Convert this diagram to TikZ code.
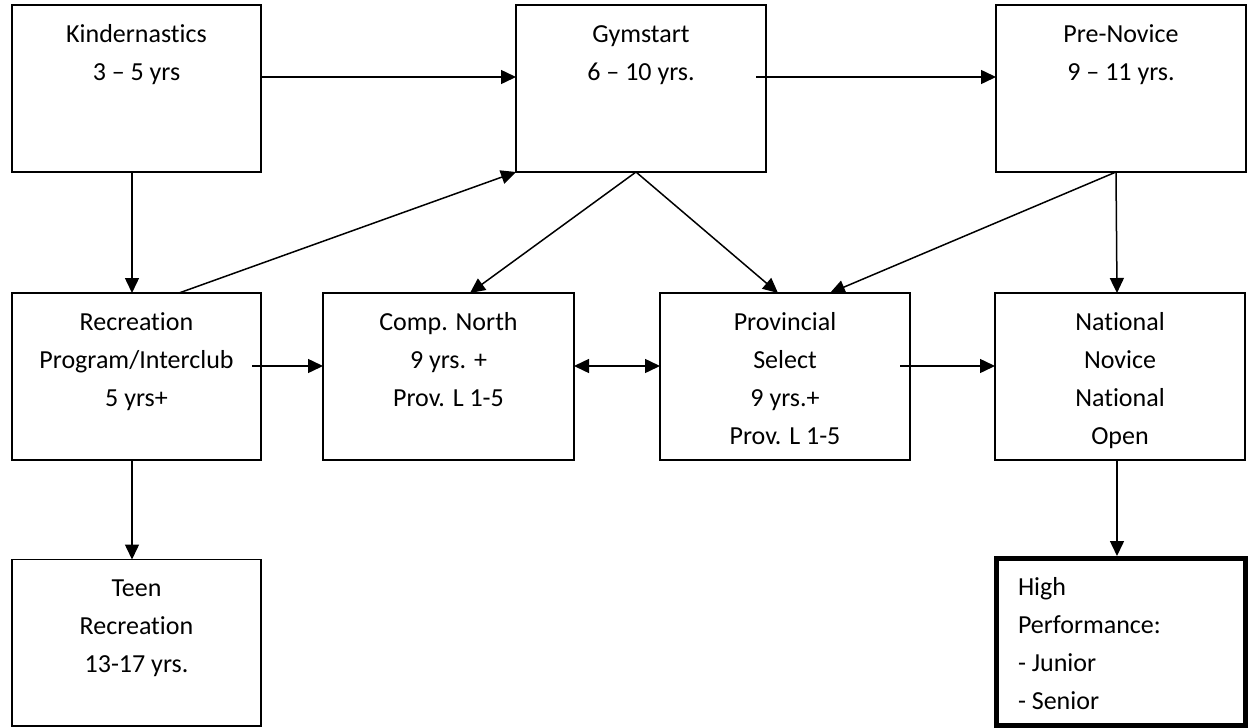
\documentclass[tikz,border=0pt]{standalone}
\usepackage{fontspec}
\setmainfont{Carlito}[Ligatures=NoCommon]
\usetikzlibrary{arrows.meta,calc}
\tikzset{
  box/.style={draw=black, line width=1.5pt, inner sep=0pt, outer sep=0pt, minimum width=250pt, minimum height=167pt},
  hpbox/.style={draw=black, line width=5pt, inner sep=0pt, outer sep=2.5pt, minimum width=249pt, minimum height=166.5pt},
  txt/.style={inner sep=0pt, outer sep=0pt, font=\fontsize{26}{38}\selectfont},
  arr/.style={line width=1.5pt, -{Triangle[length=15pt,width=14pt]}},
  darr/.style={line width=1.5pt, {Triangle[length=15pt,width=14pt]}-{Triangle[length=15pt,width=14pt]}}
}
\begin{document}
\begin{tikzpicture}[x=1pt,y=-1pt]
\fill[white] (0,0) rectangle (1248,728);
\useasboundingbox (0,0) rectangle (1248,728);
% boxes
\node[box, minimum width=249pt] (kin) at (136.5,88.5) {};
\node[box] (gym) at (641,88.5) {};
\node[box] (pre) at (1121,88.5) {};
\node[box, minimum width=249pt] (rec) at (136.5,376.5) {};
\node[box, minimum width=251pt] (comp) at (448.5,376.5) {};
\node[box] (prov) at (785,376.5) {};
\node[box] (nat) at (1120,376.5) {};
\node[box, minimum width=249pt, minimum height=166.5pt] (teen) at (136.5,642.75) {};
\node[hpbox] (hp) at (1120.5,641.75) {};
% texts
\node[txt, anchor=base] (kint) at ([yshift=-37pt]kin.north) {\parbox[t]{240pt}{\centering Kindernastics\\3 \textendash{} 5 yrs}};
\node[txt, anchor=base] (gymt) at ([yshift=-37pt]gym.north) {\parbox[t]{240pt}{\centering Gymstart\\6 \textendash{} 10 yrs.}};
\node[txt, anchor=base] (pret) at ([yshift=-37pt]pre.north) {\parbox[t]{240pt}{\centering Pre-Novice\\9 \textendash{} 11 yrs.}};
\node[txt, anchor=base] (rect) at ([yshift=-37pt]rec.north) {\parbox[t]{240pt}{\centering Recreation\\Program/Interclub\\5 yrs+}};
\node[txt, anchor=base] (compt) at ([yshift=-37pt]comp.north) {\parbox[t]{240pt}{\centering Comp. North\\9 yrs. +\\Prov. L 1-5}};
\node[txt, anchor=base] (provt) at ([yshift=-37pt]prov.north) {\parbox[t]{240pt}{\centering Provincial\\Select\\9 yrs.+\\Prov. L 1-5}};
\node[txt, anchor=base] (natt) at ([yshift=-37pt]nat.north) {\parbox[t]{240pt}{\centering National\\Novice\\National\\Open}};
\node[txt, anchor=base] (teent) at ([yshift=-37pt]teen.north) {\parbox[t]{240pt}{\centering Teen\\Recreation\\13-17 yrs.}};
\node[txt, anchor=base west] (hpt) at ([xshift=24.5pt,yshift=-39pt]hp.north west) {\parbox[t]{215pt}{\raggedright High\\Performance:\\- Junior\\- Senior}};
% connectors
\draw[arr] ([yshift=11.5pt]kin.east) -- ([yshift=11.5pt]gym.west);
\draw[arr] ([xshift=-10pt,yshift=11.5pt]gym.east) -- ([yshift=11.5pt]pre.west);
\draw[arr] ([xshift=-4.5pt]kin.south) -- ([xshift=-4.5pt]rec.north);
\draw[arr] ([xshift=42.5pt]rec.north) -- (gym.south west);
\draw[arr] ([xshift=-5pt]gym.south) -- ([xshift=21.5pt]comp.north);
\draw[arr] ([xshift=-5pt]gym.south) -- ([xshift=-7pt]prov.north);
\draw[arr] ([xshift=-5pt]pre.south) -- ([xshift=45pt]prov.north);
\draw[arr] ([xshift=-5pt]pre.south) -- ([xshift=-3pt]nat.north);
\draw[arr] ([xshift=-9pt,yshift=10.5pt]rec.east) -- ([yshift=10.5pt]comp.west);
\draw[darr] ([yshift=10.5pt]comp.east) -- ([yshift=10.5pt]prov.west);
\draw[arr] ([xshift=-10pt,yshift=10.5pt]prov.east) -- ([yshift=10.5pt]nat.west);
\draw[arr] ([xshift=-4.5pt]rec.south) -- ([xshift=-4.5pt]teen.north);
\draw[arr] ([xshift=-3pt]nat.south) -- ([xshift=-3.5pt]hp.north);
\end{tikzpicture}
\end{document}
